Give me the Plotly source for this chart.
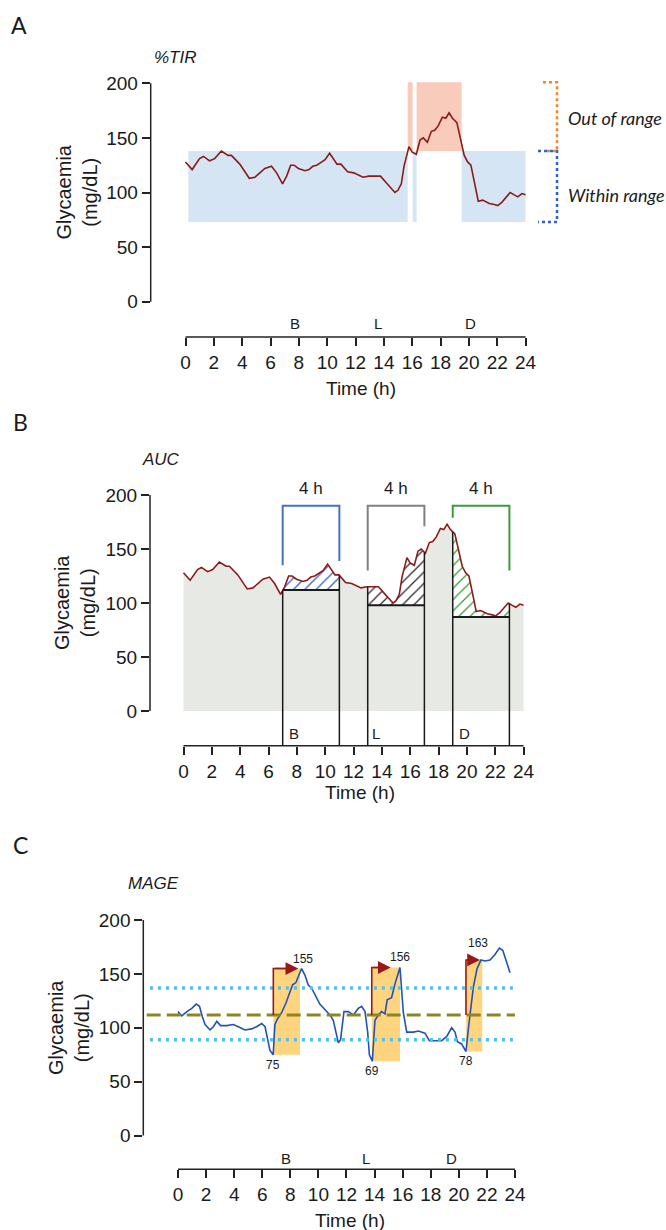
import numpy as np
import plotly.graph_objects as go

W, H = 666, 1230
ARIAL = "Liberation Sans, Arial, sans-serif"
CAL = "Lato, Open Sans, sans-serif"
INK = "#1a1a1a"

# ---------------- data ----------------
time_ab = [0.0, 0.47, 0.99, 1.27, 1.7, 2.06, 2.53, 3.0, 3.24, 3.83,
           4.5, 4.9, 5.6, 6.07, 6.43, 6.85, 7.14, 7.42, 7.66, 7.97,
           8.44, 8.72, 8.98, 9.26, 9.62, 9.85, 10.17, 10.45, 10.69, 10.97,
           11.44, 11.87, 12.22, 12.53, 12.93, 13.4, 13.76, 14.23, 14.59, 14.78,
           14.99, 15.23, 15.42, 15.6, 15.77, 16.0, 16.29, 16.55, 16.78, 17.07,
           17.35, 17.59, 17.83, 18.13, 18.37, 18.6, 18.84, 19.15, 19.43, 19.67,
           19.91, 20.14, 20.38, 20.66, 20.97, 21.44, 21.8, 22.03, 22.32, 22.62,
           22.91, 23.17, 23.45, 23.74, 24.0]
glu_ab = [128, 121, 131, 133, 129, 131, 138, 134, 134, 126,
          113, 114, 122, 124, 118, 108, 115, 125, 125, 122,
          120, 121, 124, 125, 128, 130, 136, 131, 126, 126,
          119, 118, 116, 114, 115, 115, 115, 108, 103, 100,
          102, 108, 124, 134, 142, 137, 135, 148, 150, 146,
          156, 157, 161, 169, 168, 173, 168, 164, 149, 134,
          128, 125, 110, 92, 93, 90, 89, 88, 91, 96,
          100, 98, 96, 99, 98]

time_c = [0.0, 0.27, 0.63, 0.98, 1.3, 1.53, 1.74, 1.93, 2.28, 2.52,
          2.76, 3.04, 3.47, 3.94, 4.3, 4.77, 5.25, 5.6, 5.96, 6.2,
          6.39, 6.55, 6.78, 6.9, 7.07, 7.38, 7.69, 7.93, 8.16, 8.4,
          8.64, 8.8, 9.04, 9.27, 9.51, 9.82, 10.1, 10.46, 10.82, 11.06,
          11.3, 11.42, 11.58, 11.73, 11.82, 12.13, 12.49, 12.84, 13.08, 13.32,
          13.51, 13.63, 13.84, 14.03, 14.27, 14.5, 14.74, 14.9, 15.21, 15.46,
          15.81, 16.05, 16.29, 16.76, 17.12, 17.59, 17.9, 18.31, 18.78, 19.14,
          19.49, 19.73, 19.9, 20.2, 20.51, 20.75, 21.04, 21.3, 21.58, 21.86,
          22.22, 22.58, 22.89, 23.13, 23.36, 23.65]
glu_c = [115, 111, 115, 118, 122, 120, 110, 103, 98, 101,
         106, 102, 102, 103, 101, 98, 99, 101, 104, 101,
         89, 79, 75, 103, 108, 114, 123, 132, 140, 142,
         151, 155, 149, 140, 137, 129, 122, 117, 112, 107,
         94, 86, 89, 106, 115, 115, 112, 118, 120, 115,
         96, 75, 69, 107, 112, 115, 113, 126, 128, 141,
         156, 114, 96, 96, 97, 95, 88, 88, 88, 92,
         100, 96, 87, 85, 78, 107, 138, 155, 163, 162,
         163, 168, 174, 172, 163, 151]

x_ticks = list(range(0, 25, 2))
y_ticks = [0, 50, 100, 150, 200]
meal_labels = ["B", "L", "D"]
meal_pos_a = [7.7, 13.6, 20.1]
meal_pos_b = [7.8, 13.6, 19.8]
meal_pos_c = [7.7, 13.4, 19.5]

# %TIR
tir_low, tir_high, tir_top = 73, 138, 201
within_segments = [(0.2, 15.68), (16.03, 16.31), (19.49, 24.0)]
out_segments = [(15.68, 16.03), (16.31, 19.49)]

# AUC
auc_windows = [(7, 11), (13, 17), (19, 23)]
auc_baselines = [112, 98, 87]
bracket_level = 190
bracket_legs = [(135, 139), (130, 171), (179, 130)]
bracket_colors = ["#4472C4", "#808080", "#3C9A3C"]
hatch_colors = ["#2E5FBF", "#222222", "#2E9A2E"]

# MAGE
mage_mean = 112
mage_band = [89, 137]
nadir_t = [6.79, 13.80, 20.51]
nadir_v = [75, 69, 78]
box_right = [8.69, 15.81, 21.67]
peak_v = [155, 156, 163]
arrow_tip = [8.57, 15.15, 21.51]
peak_label_t = [8.9, 15.81, 21.34]
peak_label_shift = [10, 10, 17]

# ---------------- layout geometry (pixels) ----------------
panels = [
    dict(x0h=185.5, pph=14.17, ax=150.7, y0=301.7, ppu=1.092, top=78, bottom=337),
    dict(x0h=183.5, pph=14.17, ax=150.0, y0=711.0, ppu=1.08, top=484, bottom=745.7),
    dict(x0h=178.0, pph=14.04, ax=143.3, y0=1135.5, ppu=1.077, top=910, bottom=1169.3),
]
RIGHT = 575

fig = go.Figure()
layout = dict(width=W, height=H, margin=dict(l=0, r=0, t=0, b=0),
              paper_bgcolor="white", plot_bgcolor="rgba(0,0,0,0)",
              showlegend=False, template="none")
shapes, anns = [], []
yr = []

for i, p in enumerate(panels):
    s = "" if i == 0 else str(i + 1)
    xr = [(p["ax"] - p["x0h"]) / p["pph"], (RIGHT - p["x0h"]) / p["pph"]]
    yrng = [(p["y0"] - p["bottom"]) / p["ppu"], (p["y0"] - p["top"]) / p["ppu"]]
    yr.append(yrng)
    tick = dict(ticks="outside", ticklen=8, tickwidth=1.5, tickcolor="#222",
                showline=False, showgrid=False, zeroline=False,
                tickfont=dict(family=ARIAL, size=19, color=INK))
    layout["xaxis" + s] = dict(domain=[p["ax"] / W, RIGHT / W], range=xr, anchor="y" + s,
                               tickvals=x_ticks, **tick)
    layout["yaxis" + s] = dict(domain=[1 - p["bottom"] / H, 1 - p["top"] / H], range=yrng,
                               anchor="x" + s, tickvals=y_ticks, **tick)
    # axis lines
    shapes.append(dict(type="line", xref=("x" + s + " domain"), yref="y" + s,
                       x0=0, x1=0, y0=0, y1=200, line=dict(color="#222", width=1.5)))
    shapes.append(dict(type="line", xref="x" + s, yref="y" + s + " domain",
                       x0=0, x1=24, y0=0, y1=0, line=dict(color="#222", width=1.5)))

# ---------------- Panel A ----------------
for a, b in within_segments:
    shapes.append(dict(type="rect", xref="x", yref="y", x0=a, x1=b, y0=tir_low, y1=tir_high,
                       fillcolor="#D5E5F3", line=dict(width=0), layer="below"))
for a, b in out_segments:
    shapes.append(dict(type="rect", xref="x", yref="y", x0=a, x1=b, y0=tir_high, y1=tir_top,
                       fillcolor="#F8CBBA", line=dict(width=0), layer="below"))
fig.add_trace(go.Scatter(x=time_ab, y=glu_ab, mode="lines",
                         line=dict(color="#8B1A1A", width=1.6), xaxis="x", yaxis="y"))
# range brackets on the right
bx_in, bx_v, bx_out = 24.88, 26.22, 25.23
fig.add_trace(go.Scatter(x=[bx_in, bx_v, bx_v, bx_in], y=[tir_high, tir_high, tir_low, tir_low],
                         mode="lines", line=dict(color="#2F62C8", width=2.5, dash="dot"),
                         xaxis="x", yaxis="y"))
fig.add_trace(go.Scatter(x=[bx_out, bx_v, bx_v, bx_in + 0.5], y=[tir_top, tir_top, tir_high, tir_high],
                         mode="lines", line=dict(color="#F4832A", width=2.5, dash="dot"),
                         xaxis="x", yaxis="y"))

# ---------------- Panel B ----------------
tt = np.array(time_ab)
gg = np.array(glu_ab)
fig.add_trace(go.Scatter(x=time_ab, y=glu_ab, mode="lines", fill="tozeroy",
                         fillcolor="#E7E9E5", line=dict(width=0), xaxis="x2", yaxis="y2"))
for (t0, t1), base, hc in zip(auc_windows, auc_baselines, hatch_colors):
    inside = (tt > t0) & (tt < t1)
    xs = [t0] + list(tt[inside]) + [t1]
    ys = [float(np.interp(t0, tt, gg))] + list(gg[inside]) + [float(np.interp(t1, tt, gg))]
    fig.add_trace(go.Scatter(x=xs + [t1, t0, t0], y=ys + [base, base, ys[0]], mode="lines",
                             fill="toself", fillcolor="white",
                             fillpattern=dict(shape="/", fgcolor=hc, bgcolor="white",
                                              size=8, solidity=0.15),
                             line=dict(width=0), xaxis="x2", yaxis="y2"))
fig.add_trace(go.Scatter(x=time_ab, y=glu_ab, mode="lines",
                         line=dict(color="#8B1A1A", width=1.6), xaxis="x2", yaxis="y2"))
vx, vy = [], []
hx, hy = [], []
for (t0, t1), base in zip(auc_windows, auc_baselines):
    for t in (t0, t1):
        vx += [t, t, None]
        vy += [yr[1][0], float(np.interp(t, tt, gg)), None]
    hx += [t0, t1, None]
    hy += [base, base, None]
fig.add_trace(go.Scatter(x=vx, y=vy, mode="lines", line=dict(color="#1a1a1a", width=1.5),
                         xaxis="x2", yaxis="y2"))
fig.add_trace(go.Scatter(x=hx, y=hy, mode="lines", line=dict(color="#1a1a1a", width=2),
                         xaxis="x2", yaxis="y2"))
for (t0, t1), (l0, l1), bc in zip(auc_windows, bracket_legs, bracket_colors):
    fig.add_trace(go.Scatter(x=[t0, t0, t1, t1], y=[l0, bracket_level, bracket_level, l1],
                             mode="lines", line=dict(color=bc, width=2), xaxis="x2", yaxis="y2"))
    anns.append(dict(text="4 h", x=(t0 + t1) / 2, y=205.6, xref="x2", yref="y2", showarrow=False,
                     xanchor="center", yanchor="middle",
                     font=dict(family=ARIAL, size=17, color=INK)))

# ---------------- Panel C ----------------
for t0, t1, v0, v1 in zip(nadir_t, box_right, nadir_v, peak_v):
    shapes.append(dict(type="rect", xref="x3", yref="y3", x0=t0, x1=t1, y0=v0, y1=v1,
                       fillcolor="#FFD47E", line=dict(width=0), layer="below"))
fig.add_trace(go.Scatter(x=time_c, y=glu_c, mode="lines",
                         line=dict(color="#2352B5", width=1.6), xaxis="x3", yaxis="y3"))
for v in mage_band:
    fig.add_trace(go.Scatter(x=[-2.0, 23.9], y=[v, v], mode="lines",
                             line=dict(color="#4EC0F2", width=3.5, dash="3px,5px"),
                             xaxis="x3", yaxis="y3"))
fig.add_trace(go.Scatter(x=[-2.23, 24.0], y=[mage_mean, mage_mean], mode="lines",
                         line=dict(color="#8C8520", width=3, dash="14px,6px"),
                         xaxis="x3", yaxis="y3"))
for t0, v1, tip in zip(nadir_t, peak_v, arrow_tip):
    fig.add_trace(go.Scatter(x=[t0, t0, tip - 0.3], y=[mage_mean, v1, v1], mode="lines",
                             line=dict(color="#9A1818", width=1.6), xaxis="x3", yaxis="y3"))
    anns.append(dict(text="", x=tip, y=v1, ax=t0, ay=v1, xref="x3", yref="y3",
                     axref="x3", ayref="y3", showarrow=True, arrowhead=2, arrowsize=1.6,
                     arrowwidth=1.6, arrowcolor="#9A1818"))
for t, v, sh in zip(peak_label_t, peak_v, peak_label_shift):
    anns.append(dict(text=str(v), x=t, y=v, xref="x3", yref="y3", yshift=sh, showarrow=False,
                     xanchor="center", yanchor="middle",
                     font=dict(family=ARIAL, size=12, color=INK)))
for t, v in zip(nadir_t, nadir_v):
    anns.append(dict(text=str(v), x=t, y=v, xref="x3", yref="y3", yshift=-10, showarrow=False,
                     xanchor="center", yanchor="middle",
                     font=dict(family=ARIAL, size=12, color=INK)))

# ---------------- shared texts ----------------
for s, pos, yv in (("", meal_pos_a, -20.2), ("2", meal_pos_b, -20.4), ("3", meal_pos_c, -21.8)):
    for lab, t in zip(meal_labels, pos):
        anns.append(dict(text=lab, x=t, y=yv, xref="x" + s, yref="y" + s, showarrow=False,
                         xanchor="center", yanchor="middle",
                         font=dict(family=ARIAL, size=15, color=INK)))


def pann(text, px, py, size, family, xanchor="center", **kw):
    return dict(text=text, x=px / W, y=1 - py / H, xref="paper", yref="paper", showarrow=False,
                xanchor=xanchor, yanchor="middle",
                font=dict(family=family, size=size, color=INK), **kw)


anns += [
    pann("A", 19, 25, 23, CAL), pann("B", 21, 422, 23, CAL), pann("C", 21, 845, 23, CAL),
    pann("<i>%TIR</i>", 175, 57, 17, ARIAL), pann("<i>AUC</i>", 161, 459, 17, ARIAL),
    pann("<i>MAGE</i>", 153, 883, 17, ARIAL),
    pann("Glycaemia<br>(mg/dL)", 76, 192.5, 20, ARIAL, textangle=-90),
    pann("Glycaemia<br>(mg/dL)", 75, 603, 20, ARIAL, textangle=-90),
    pann("Glycaemia<br>(mg/dL)", 69, 1028, 20, ARIAL, textangle=-90),
    pann("Time (h)", 361, 388, 19, ARIAL), pann("Time (h)", 360, 792, 19, ARIAL),
    pann("Time (h)", 350, 1220, 19, ARIAL),
    pann("<i>Out of range</i>", 566, 118, 18, CAL, xanchor="left"),
    pann("<i>Within range</i>", 566, 195, 18, CAL, xanchor="left"),
]

layout["shapes"] = shapes
layout["annotations"] = anns
fig.update_layout(**layout)
fig.write_html("out.html")
